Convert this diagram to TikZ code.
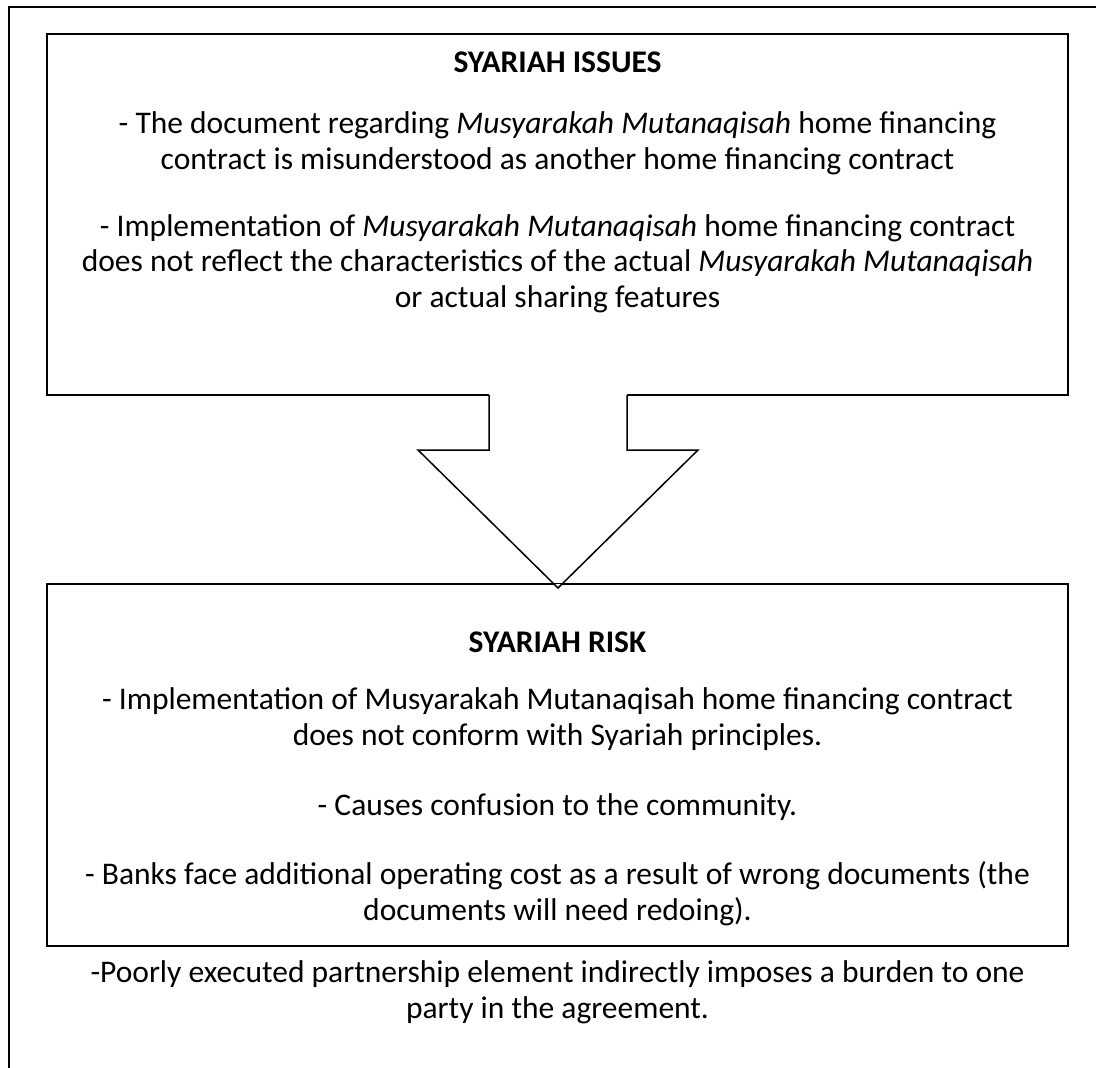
\documentclass[tikz,border=0pt]{standalone}
\usepackage{fontspec}
\setmainfont{Carlito}
\begin{document}
\begin{tikzpicture}[x=1pt,y=-1pt,line width=1.5pt,
  box/.style={draw,rectangle,inner sep=0pt},
  txt/.style={align=center,inner sep=0pt,anchor=base,font=\fontsize{31.5}{35.5}\selectfont},
  ttl/.style={txt,font=\fontsize{31.5}{35.5}\selectfont\bfseries}]
\useasboundingbox (0,0) rectangle (1096,1068);
% outer frame, only the top and the left side show
\draw (9,1068)--(9,7)--(1096,7);
\node[box,minimum width=1021pt,minimum height=361pt] (issues) at (557.5,214.5) {};
\node[box,minimum width=1021pt,minimum height=362pt] (risk) at (557.5,765) {};
% block arrow
\path[fill=white] (489,392)--(489,450)--(418,450)--(558,588)--(698,450)--(627,450)--(627,392)--cycle;
\draw (489,395)--(489,450)--(418,450)--(558,588)--(698,450)--(627,450)--(627,395);
\draw (risk.north west)--(risk.north east);
% texts, base = baseline of the last line
\node[ttl] (title1) at (557.5,72) {SYARIAH ISSUES};
\node[txt] (issue1) at (557.5,169) {- The document regarding \textit{Musyarakah Mutanaqisah} home financing\\contract is misunderstood as another home financing contract};
\node[txt] (issue2) at (557.5,307) {- Implementation of \textit{Musyarakah Mutanaqisah} home financing contract\\does not reflect the characteristics of the actual \textit{Musyarakah Mutanaqisah}\\or actual sharing features};
\node[ttl] (title2) at (557.5,652) {SYARIAH RISK};
\node[txt] (risk1) at (557.5,745) {- Implementation of Musyarakah Mutanaqisah home financing contract\\does not conform with Syariah principles.};
\node[txt] (risk2) at (557.5,815) {- Causes confusion to the community.};
\node[txt] (risk3) at (557.5,920) {- Banks face additional operating cost as a result of wrong documents (the\\documents will need redoing).};
\node[txt] (burden) at (557.5,1018) {-Poorly executed partnership element indirectly imposes a burden to one\\party in the agreement.};
\end{tikzpicture}
\end{document}
